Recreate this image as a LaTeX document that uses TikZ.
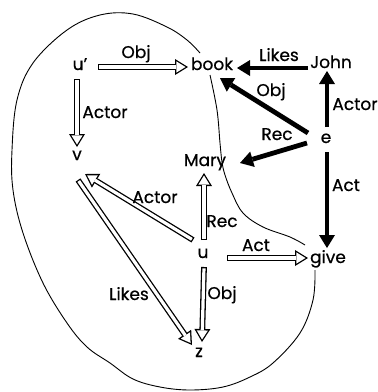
\documentclass[tikz,border=0pt]{standalone}
\usepackage{fontspec}
\setmainfont{Poppins}[FakeBold=0.6]
\usetikzlibrary{arrows.meta}
\tikzset{
  txt/.style={font=\fontsize{17}{19}\selectfont, inner sep=0pt, anchor=base},
  hol/.style={line width=5.8pt, -{Triangle[length=13pt,width=16pt,line width=0pt]},
    postaction={draw=white, line width=3.2pt, shorten <=1.3pt, shorten >=2.5pt,
      -{Triangle[length=9.1pt,width=11.2pt,line width=0pt]}}},
  blk/.style={line width=4.8pt, -{Triangle[length=13pt,width=16pt,line width=0pt]}},
  blob/.style={line width=0.9pt}
}
\begin{document}
\begin{tikzpicture}[x=1pt,y=-1pt]
\useasboundingbox (0,0) rectangle (378,392);
% outline
\draw[blob] plot[smooth, tension=0.6] coordinates {(200,53) (187,40) (167,27) (133,14) (100,15) (67,30) (33,63) (17,100) (12,150) (13,190) (23,233) (43,283) (67,323) (87,347) (110,363) (133,379) (160,387) (190,390) (223,387) (250,377) (273,363) (300,333) (313,300) (315,270)};
\draw[blob] plot[smooth, tension=0.6] coordinates {(210,75) (217,110) (220,143) (222,162) (225,175) (232,193) (243,213) (263,227) (290,237) (305,245)};
% nodes
\node[txt] (uprime) at (80,70) {u'};
\node[txt] (book) at (212,70) {book};
\node[txt] (John) at (331,68) {John};
\node[txt] (e) at (326,143) {e};
\node[txt] (Mary) at (205,166) {Mary};
\node[txt] (v) at (77,160) {v};
\node[txt] (u) at (203,258) {u};
\node[txt] (give) at (328,263) {give};
\node[txt] (z) at (199,357) {z};
% hollow arrows
\draw[hol] ([shift={(18,-3)}]uprime.base) -- ([shift={(-24,-3)}]book.base);
\draw[hol] ([shift={(-3,9)}]uprime.base) -- ([shift={(0,-13)}]v.base);
\draw[hol] ([shift={(-10,-18)}]u.base) -- ([shift={(8,14)}]v.base);
\draw[hol] ([shift={(1,20)}]v.base) -- ([shift={(-7,-12)}]z.base);
\draw[hol] ([shift={(1,-18)}]u.base) -- ([shift={(-1,7)}]Mary.base);
\draw[hol] ([shift={(24,0)}]u.base) -- ([shift={(-20,-5)}]give.base);
\draw[hol] ([shift={(1,9)}]u.base) -- ([shift={(3,-15)}]z.base);
% black arrows
\draw[blk] ([shift={(-23,0)}]John.base) -- ([shift={(25,-2)}]book.base);
\draw[blk] ([shift={(1,-16)}]e.base) -- ([shift={(-4,3)}]John.base);
\draw[blk] ([shift={(-18,-10)}]e.base) -- ([shift={(8,8)}]book.base);
\draw[blk] ([shift={(-19,0)}]e.base) -- ([shift={(35,-3)}]Mary.base);
\draw[blk] ([shift={(1,9)}]e.base) -- ([shift={(-1,-15)}]give.base);
% labels
\node[txt] (l1) at (136,58) {Obj};
\node[txt] (l2) at (105,118) {Actor};
\node[txt] (l3) at (279,61) {Likes};
\node[txt] (l4) at (355,110) {Actor};
\node[txt] (l5) at (271,96) {Obj};
\node[txt] (l6) at (277,140) {Rec};
\node[txt] (l7) at (346,191) {Act};
\node[txt] (l8) at (155,203) {Actor};
\node[txt] (l9) at (222,227) {Rec};
\node[txt] (l10) at (256,251) {Act};
\node[txt] (l11) at (129,300) {Likes};
\node[txt] (l12) at (222,299) {Obj};
\end{tikzpicture}
\end{document}
